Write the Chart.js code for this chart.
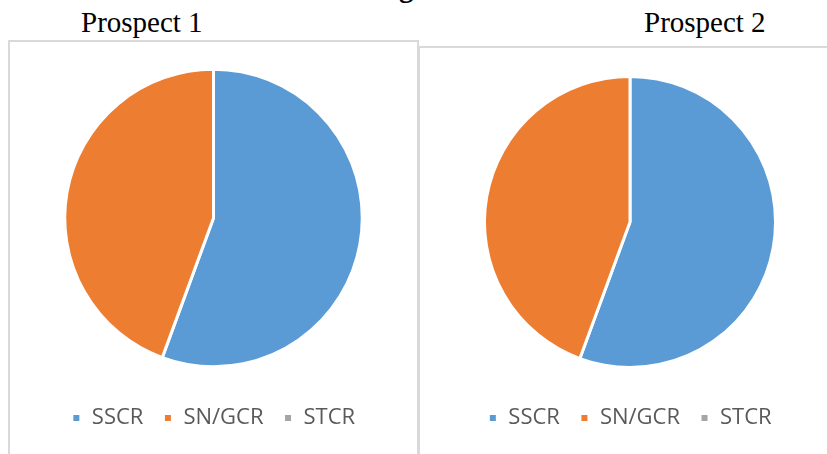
<!DOCTYPE html>
<html>
<head>
<meta charset="utf-8">
<script src="https://cdn.jsdelivr.net/npm/chart.js"></script>
<style>
  body { margin: 0; width: 827px; height: 454px; overflow: hidden; background: #fff; position: relative; }
  .box { position: absolute; border: 2px solid #d9d9d9; box-sizing: border-box; }
  .heading { position: absolute; font-family: "Liberation Serif", "Times New Roman", serif; font-size: 29px; line-height: 29px; color: #000; white-space: nowrap; }
  canvas { position: absolute; }
</style>
</head>
<body>
<div class="heading" style="left:399px; top:-27px; font-weight:bold;">g</div>
<div class="heading" style="left:81px; top:8px;">Prospect 1</div>
<div class="heading" style="left:644px; top:8px;">Prospect 2</div>

<div class="box" style="left:8px; top:40px; width:411px; height:430px;"></div>
<div class="box" style="left:418px; top:46px; width:430px; height:430px;"></div>

<canvas id="pie1" width="407" height="412" style="left:10px; top:42px;"></canvas>
<canvas id="pie2" width="420" height="406" style="left:420px; top:48px;"></canvas>

<script>
// values (percent)
const categories = ['SSCR', 'SN/GCR', 'STCR'];
const prospect1 = [55.6, 44.4, 0];
const prospect2 = [55.6, 44.4, 0];
const sliceColors = ['#5b9bd5', '#ed7d31', '#a5a5a5'];

function makePie(id, values, pad, radius) {
  return new Chart(document.getElementById(id), {
    type: 'pie',
    data: {
      labels: categories,
      datasets: [{
        data: values,
        backgroundColor: sliceColors,
        borderColor: '#ffffff',
        borderWidth: 3
      }]
    },
    options: {
      responsive: false,
      animation: false,
      radius: radius,
      layout: { padding: pad },
      plugins: {
        tooltip: { enabled: false },
        legend: {
          position: 'bottom',
          labels: {
            boxWidth: 9,
            boxHeight: 9,
            padding: 20,
            color: '#595959',
            font: { family: '"Open Sans", sans-serif', size: 22 }
          }
        }
      }
    }
  });
}

makePie('pie1', prospect1, { top: 7, bottom: 15 }, '88.8%');
makePie('pie2', prospect2, { top: 9, bottom: 15 }, '89%');
</script>
</body>
</html>
